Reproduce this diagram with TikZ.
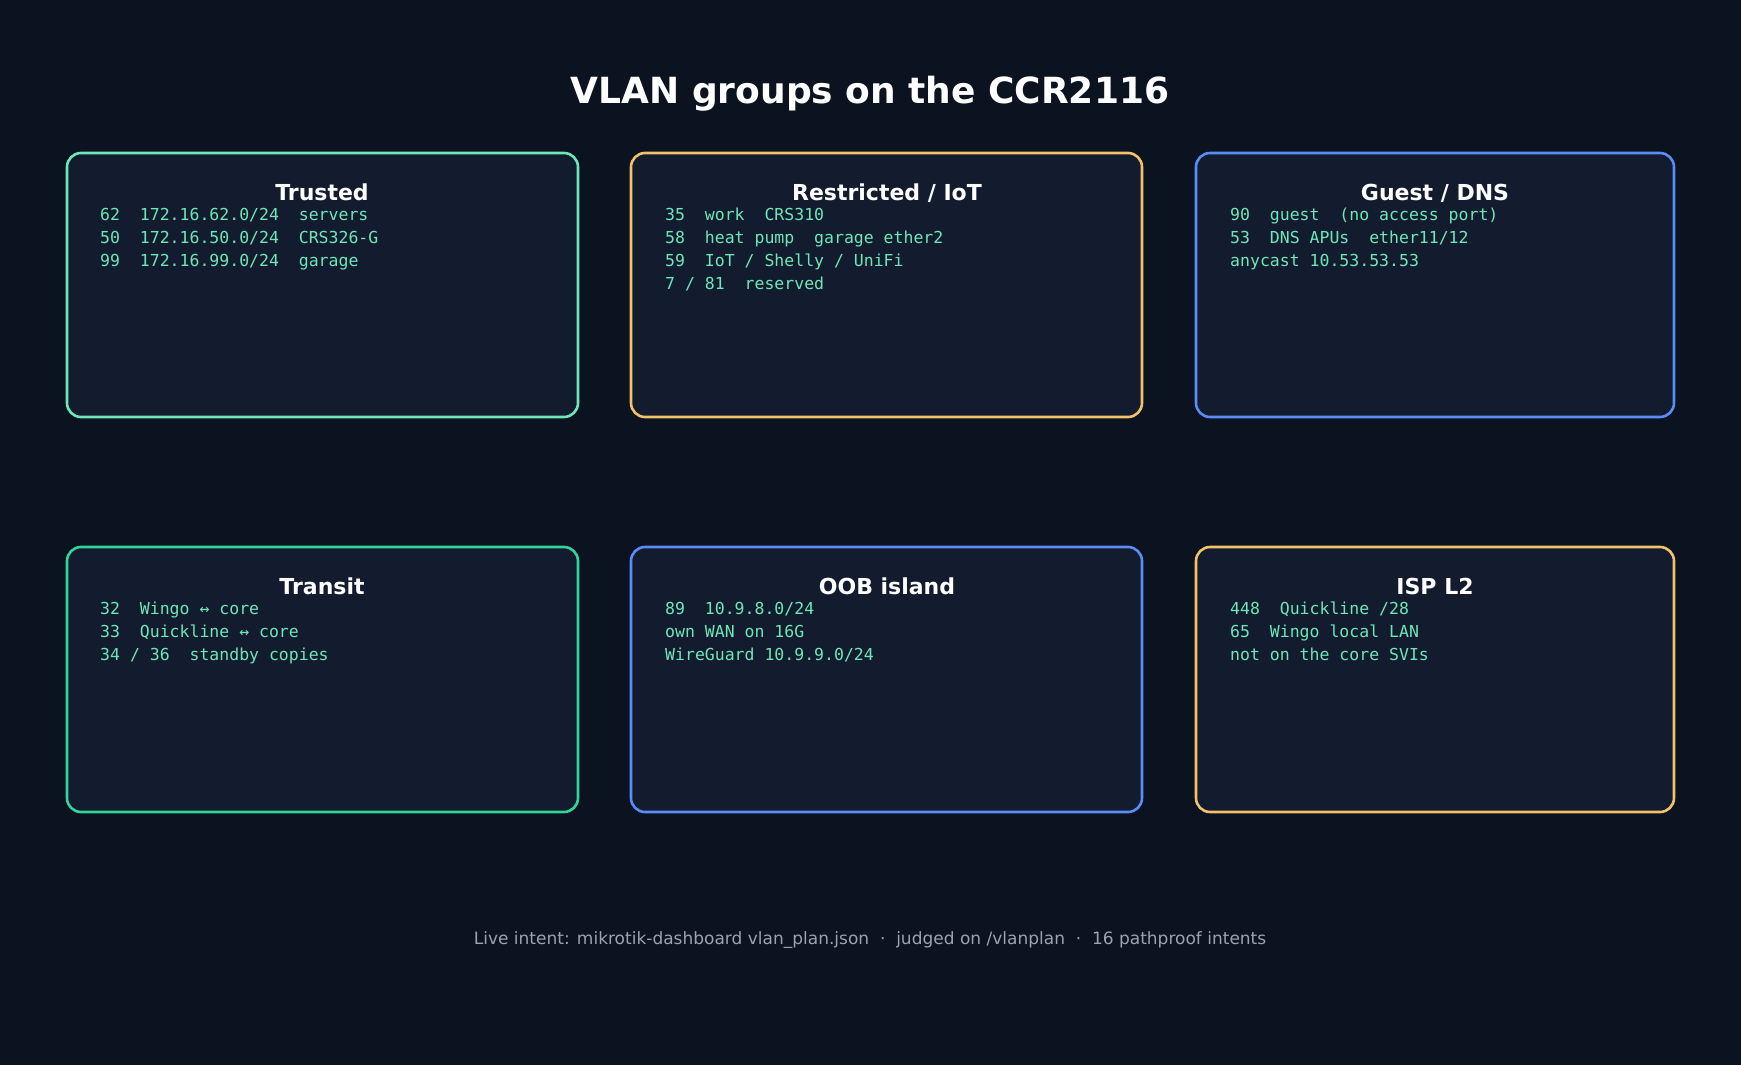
\documentclass[tikz,border=0pt]{standalone}
\usepackage{fontspec}
\setmainfont{DejaVu Sans}
\setmonofont{DejaVu Sans Mono}
\begin{document}
\definecolor{bg}{HTML}{0B1220}
\definecolor{boxbg}{HTML}{131C2E}
\definecolor{cmint}{HTML}{6EE7B7}
\definecolor{cgreen}{HTML}{34D399}
\definecolor{corange}{HTML}{F2C16B}
\definecolor{cblue}{HTML}{5B8CF5}
\definecolor{txt}{HTML}{6EE7B7}
\definecolor{foot}{HTML}{9CA3AF}
\begin{tikzpicture}[x=1pt,y=-1pt,
  box/.style={draw=#1,line width=2.6pt,fill=boxbg,rounded corners=14pt},
  btitle/.style={text=white,font=\fontsize{22}{26}\selectfont\bfseries,anchor=base},
  body/.style={text=txt,font=\fontsize{16.5}{23}\selectfont\ttfamily,anchor=north west,align=left,inner sep=0pt}]
\fill[bg] (0,0) rectangle (1741,1065);
\useasboundingbox (0,0) rectangle (1741,1065);
\node[text=white,font=\fontsize{36}{40}\selectfont\bfseries] (title) at (870,94) {VLAN groups on the CCR2116};
% row 1
\draw[box=cmint] (67,153) rectangle (578,417);
\node[btitle] (t1) at (322,200) {Trusted};
\node[body] (b1) at (100,208) {62\ \ 172.16.62.0/24\ \ servers\\50\ \ 172.16.50.0/24\ \ CRS326-G\\99\ \ 172.16.99.0/24\ \ garage};
\draw[box=corange] (631,153) rectangle (1142,417);
\node[btitle] (t2) at (887,200) {Restricted / IoT};
\node[body] (b2) at (665,208) {35\ \ work\ \ CRS310\\58\ \ heat pump\ \ garage ether2\\59\ \ IoT / Shelly / UniFi\\7 / 81\ \ reserved};
\draw[box=cblue] (1196,153) rectangle (1674,417);
\node[btitle] (t3) at (1435,200) {Guest / DNS};
\node[body] (b3) at (1230,208) {90\ \ guest\ \ (no access port)\\53\ \ DNS APUs\ \ ether11/12\\anycast 10.53.53.53};
% row 2
\draw[box=cgreen] (67,547) rectangle (578,812);
\node[btitle] (t4) at (322,594) {Transit};
\node[body] (b4) at (100,602) {32\ \ Wingo ↔ core\\33\ \ Quickline ↔ core\\34 / 36\ \ standby copies};
\draw[box=cblue] (631,547) rectangle (1142,812);
\node[btitle] (t5) at (887,594) {OOB island};
\node[body] (b5) at (665,602) {89\ \ 10.9.8.0/24\\own WAN on 16G\\WireGuard 10.9.9.0/24};
\draw[box=corange] (1196,547) rectangle (1674,812);
\node[btitle] (t6) at (1435,594) {ISP L2};
\node[body] (b6) at (1230,602) {448\ \ Quickline /28\\65\ \ Wingo local LAN\\not on the core SVIs};
\node[text=foot,font=\fontsize{17}{20}\selectfont] (ft) at (870,940) {Live intent: mikrotik-dashboard vlan\_plan.json\ \ ·\ \ judged on /vlanplan\ \ ·\ \ 16 pathproof intents};
\end{tikzpicture}
\end{document}
